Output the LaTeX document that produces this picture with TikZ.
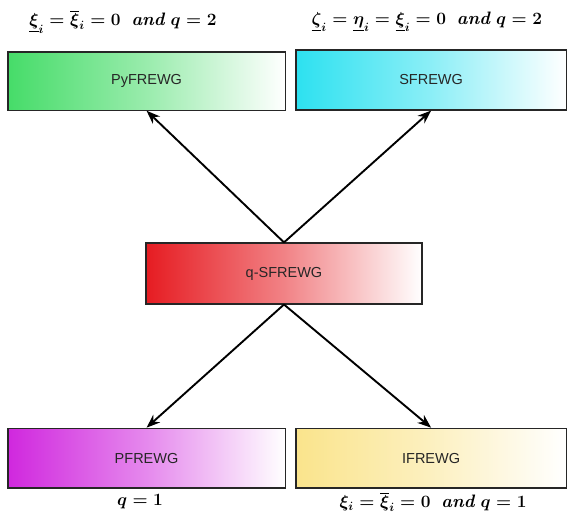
\documentclass[tikz,border=0pt]{standalone}
\usepackage{amsmath,amssymb}
\usepackage{fontspec}
\newfontfamily\boxfont{Liberation Sans}
\usetikzlibrary{
    arrows.meta,
    positioning
}

\definecolor{pyfgreen}{RGB}{70,220,105}
\definecolor{sfcyan}{RGB}{45,225,240}
\definecolor{qsfred}{RGB}{230,28,34}
\definecolor{pfmagenta}{RGB}{208,40,222}
\definecolor{ifyellow}{RGB}{250,228,140}

\begin{document}
\begin{tikzpicture}[
        every node/.style={
            font=\boxfont\fontsize{14.5pt}{17pt}\selectfont
        },
        model/.style={
            rectangle,
            draw=black!85,
            line width=1.2pt,
            shading=axis,
            shading angle=90,
            right color=white,
            minimum width=9.6cm,
            minimum height=2.1cm,
            align=center,
            text=black!85
        },
        cond/.style={
            font=\fontsize{18pt}{21pt}\selectfont\boldmath
        },
        arrow/.style={
            -{Stealth[length=4.8mm,width=3.6mm]},
            line width=1.9pt,
            draw=black
        }
    ]

    \useasboundingbox (0,0) rectangle (19.96,-18.31);

    \node[model, left color=pyfgreen, middle color=pyfgreen!55, minimum width=9.74cm, minimum height=2.04cm] (pyf) at (5.15,-2.85)
        {PyFREWG};

    \node[model, left color=sfcyan, middle color=sfcyan!55, minimum width=9.49cm, minimum height=2.11cm] (sf) at (15.15,-2.81)
        {SFREWG};

    \node[model, left color=qsfred, middle color=qsfred!55, minimum width=9.70cm, minimum height=2.14cm] (qsf) at (9.98,-9.61)
        {q-SFREWG};

    \node[model, left color=pfmagenta, middle color=pfmagenta!55, minimum width=9.74cm] (pf) at (5.15,-16.10)
        {PFREWG};

    \node[model, left color=ifyellow, middle color=ifyellow!55, minimum width=9.49cm] (if) at (15.15,-16.10)
        {IFREWG};

    \draw[arrow] (qsf.north) -- (pyf.south);
    \draw[arrow] (qsf.north) -- (sf.south);
    \draw[arrow] (qsf.south) -- (pf.north);
    \draw[arrow] (qsf.south) -- (if.north);

    % conditions on the parameters
    \node[cond] (pyfcond) at (4.32,-0.77)
        {$\underline{\xi}_i = \overline{\xi}_i = 0$\ \ \textbf{\textit{and}} $q = 2$};

    \node[cond] (sfcond) at (15.0,-0.77)
        {$\underline{\zeta}_i = \underline{\eta}_i = \underline{\xi}_i = 0$\ \ \textbf{\textit{and}} $q = 2$};

    \node[cond] (pfcond) at (4.92,-17.64)
        {$q = 1$};

    \node[cond] (ifcond) at (15.22,-17.64)
        {$\xi_i = \overline{\xi}_i = 0$\ \ \textbf{\textit{and}} $q = 1$};

\end{tikzpicture}
\end{document}
